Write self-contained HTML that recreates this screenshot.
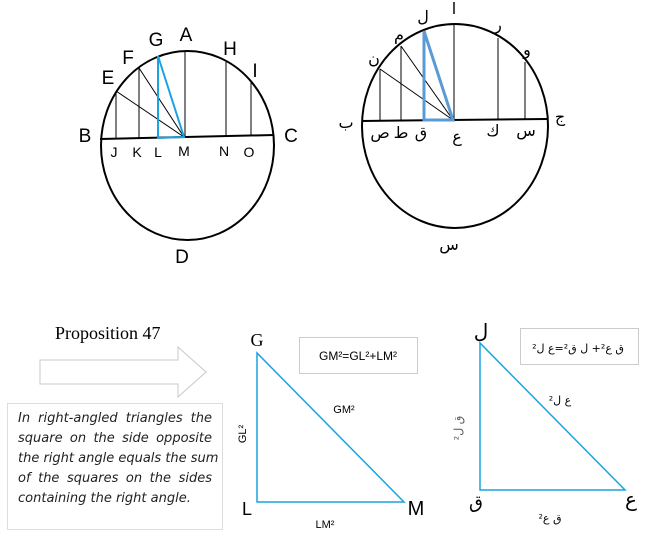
<!DOCTYPE html>
<html><head><meta charset="utf-8"><style>
body{margin:0;background:#fff;width:647px;height:538px;overflow:hidden;position:relative}
svg{position:absolute;left:0;top:0}
.t{position:absolute;left:18px;top:409px;width:194px;font:italic 13px "DejaVu Sans","Liberation Sans",sans-serif;line-height:20px;color:#222}
.t div{text-align:justify;text-align-last:justify;white-space:nowrap;height:20px}
.t div.l{text-align-last:left}
</style></head><body>
<svg width="647" height="538" viewBox="0 0 647 538" font-family="Liberation Sans, Noto Sans CJK SC, sans-serif">
<ellipse cx="187.5" cy="145.5" rx="86.5" ry="94.5" fill="none" stroke="#000" stroke-width="2"/>
<line x1="100" y1="139" x2="274" y2="135" stroke="#000" stroke-width="2"/>
<g stroke="#000" stroke-width="1">
<line x1="116" y1="91" x2="116" y2="138.5"/><line x1="139" y1="68" x2="139" y2="138"/>
<line x1="185" y1="51" x2="185" y2="137"/><line x1="226" y1="62" x2="226" y2="136"/><line x1="251" y1="82" x2="251" y2="135.5"/>
<line x1="116" y1="91" x2="184" y2="137"/><line x1="139" y1="68" x2="184" y2="137"/>
</g>
<polygon points="158,56 158,138 184,137" fill="none" stroke="#1aa3e0" stroke-width="2"/>
<g font-size="19" fill="#000" text-anchor="middle">
<text x="85" y="142">B</text><text x="291" y="142">C</text><text x="186" y="41">A</text><text x="156" y="46">G</text>
<text x="230" y="55">H</text><text x="255" y="77">I</text><text x="128" y="64">F</text><text x="108" y="84">E</text>
<text x="182" y="263">D</text>
</g>
<g font-size="14" fill="#000" text-anchor="middle">
<text x="114" y="157">J</text><text x="137" y="157">K</text><text x="158" y="157">L</text><text x="184" y="156">M</text><text x="224" y="156">N</text><text x="249" y="157">O</text>
</g>
<ellipse cx="455" cy="126" rx="93" ry="102" fill="none" stroke="#000" stroke-width="2"/>
<line x1="362" y1="121" x2="548" y2="119" stroke="#000" stroke-width="2"/>
<g stroke="#000" stroke-width="1">
<line x1="380" y1="69" x2="380" y2="121"/><line x1="401" y1="46" x2="401" y2="121"/>
<line x1="454" y1="24" x2="454" y2="120"/><line x1="498" y1="38" x2="498" y2="120"/><line x1="525" y1="62" x2="525" y2="119"/>
<line x1="380" y1="69" x2="453" y2="120"/><line x1="401" y1="46" x2="453" y2="120"/>
</g>
<polygon points="424,31 424,120 453,120" fill="none" stroke="#5b9bd5" stroke-width="3"/>
<g font-family="DejaVu Sans, sans-serif" font-size="16" fill="#000" text-anchor="middle">
<text x="346" y="128">ب</text><text x="560" y="122">ج</text><text x="454" y="14">ا</text><text x="423" y="22">ل</text>
<text x="399" y="40">م</text><text x="374" y="64">ن</text><text x="498" y="30">ر</text><text x="527" y="55">و</text>
<text x="380" y="138">ص</text><text x="401" y="138">ط</text><text x="421" y="138">ق</text><text x="457" y="142">ع</text>
<text x="493" y="136">ك</text><text x="526" y="136">س</text><text x="449" y="250">س</text>
</g>
<polygon points="40,360 178,360 178,347 206,372 178,397 178,384 40,384" fill="#fff" stroke="#c8c8c8" stroke-width="1"/>
<text x="55" y="339" font-family="Liberation Serif, serif" font-size="18">Proposition 47</text>
<rect x="7.5" y="403.5" width="215" height="126" fill="none" stroke="#ddd"/>
<polygon points="257,353 257,502 404,502" fill="none" stroke="#1aa3e0" stroke-width="1.5"/>
<rect x="299.5" y="337.5" width="118" height="36" fill="#fff" stroke="#ccc"/>
<text x="358" y="360" font-size="12" text-anchor="middle">GM²=GL²+LM²</text>
<text x="257" y="346" font-family="Liberation Serif, serif" font-size="18" text-anchor="middle">G</text>
<text x="247" y="515" font-size="18" text-anchor="middle">L</text>
<text x="416" y="515" font-size="20" text-anchor="middle">M</text>
<text x="344" y="413" font-size="11" text-anchor="middle">GM²</text>
<text x="325" y="528" font-size="11" text-anchor="middle">LM²</text>
<text transform="translate(246,434) rotate(-90)" font-size="11" text-anchor="middle">GL²</text>
<polygon points="480,343 480,490 625,490" fill="none" stroke="#1aa3e0" stroke-width="1.5"/>
<rect x="520.5" y="328.5" width="118" height="36" fill="#fff" stroke="#ccc"/>
<text x="578" y="352" direction="ltr" unicode-bidi="bidi-override" font-family="DejaVu Sans, sans-serif" font-size="11" text-anchor="middle">²ل ع=²ق ل +²ع ق</text>
<text x="481" y="338" font-family="DejaVu Sans, sans-serif" font-size="20" text-anchor="middle">ل</text>
<text x="476" y="508" font-family="DejaVu Sans, sans-serif" font-size="18" text-anchor="middle">ق</text>
<text x="631" y="506" font-family="DejaVu Sans, sans-serif" font-size="20" text-anchor="middle">ع</text>
<text x="560" y="404" direction="ltr" unicode-bidi="bidi-override" font-family="DejaVu Sans, sans-serif" font-size="11" text-anchor="middle">²ل ع</text>
<text x="550" y="522" direction="ltr" unicode-bidi="bidi-override" font-family="DejaVu Sans, sans-serif" font-size="11" text-anchor="middle">²ع ق</text>
<text transform="translate(462,428) rotate(-90)" font-family="DejaVu Sans, sans-serif" font-size="11" fill="#555" text-anchor="middle">ق ل²</text>
</svg>
<div class="t">
<div>In right-angled triangles the</div>
<div>square on the side opposite</div>
<div>the right angle equals the sum</div>
<div>of the squares on the sides</div>
<div class="l">containing the right angle.</div>
</div>
</body></html>
